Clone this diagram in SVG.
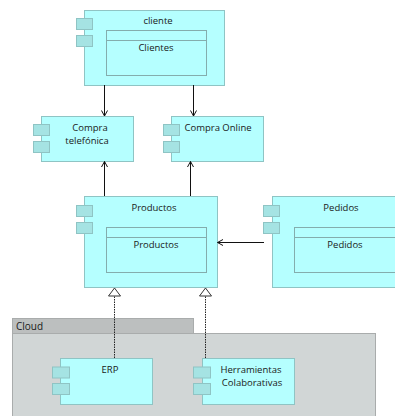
<svg xmlns="http://www.w3.org/2000/svg" width="395" height="416" viewBox="0 0 395 416">
<style>
text{font-family:"Open Sans","Liberation Sans",Arial,sans-serif;font-size:9.5px;fill:#1a1a1a;text-anchor:middle}
.b{fill:#b5ffff;stroke:#8fc4c4;stroke-width:1}
.t{fill:#a5e3e3;stroke:#8fc4c4;stroke-width:1}
.i{fill:#b5ffff;stroke:#84adad;stroke-width:1}
.l{fill:none;stroke:#111;stroke-width:1}
.d{fill:none;stroke:#222;stroke-width:1;stroke-dasharray:1.500 1}
.h{fill:#fff;stroke:#333;stroke-width:1}
</style>
<defs>
<marker id="a" markerWidth="8" markerHeight="10" refX="6.5" refY="4" orient="auto" markerUnits="userSpaceOnUse"><path d="M1 1L6.5 4L1 7" fill="none" stroke="#111" stroke-width="1"/></marker>
</defs>
<rect width="395" height="416" fill="#fff"/>
<g id="cloud">
<rect x="12.500" y="318.500" width="181" height="15" fill="#bcbfbf" stroke="#a9acac"/>
<rect x="12.500" y="333.500" width="363" height="90" fill="#d1d6d6" stroke="#a9acac"/>
<text x="16" y="330" style="text-anchor:start;font-size:10px">Cloud</text>
</g>
<g id="cliente">
<rect class="b" x="84.500" y="10.500" width="140" height="75"/>
<rect class="t" x="76.500" y="18.500" width="16" height="11"/><rect class="t" x="76.500" y="35.500" width="16" height="11"/>
<rect class="i" x="106.500" y="30.500" width="100" height="45"/><path class="i" d="M106.500 40.500H206.500"/>
<text x="158" y="24">cliente</text><text x="156" y="51">Clientes</text>
</g>
<g id="compra-telefonica">
<rect class="b" x="41.500" y="116.500" width="92" height="45"/>
<rect class="t" x="33.500" y="124.500" width="16" height="11"/><rect class="t" x="33.500" y="141.500" width="16" height="11"/>
<text x="90" y="130.500">Compra</text><text x="87" y="143.500">telefónica</text>
</g>
<g id="compra-online">
<rect class="b" x="171.500" y="116.500" width="92" height="45"/>
<rect class="t" x="163.500" y="124.500" width="16" height="11"/><rect class="t" x="163.500" y="141.500" width="16" height="11"/>
<text x="218" y="130.500">Compra Online</text>
</g>
<g id="productos">
<rect class="b" x="84.500" y="196.500" width="133" height="91"/>
<rect class="t" x="76.500" y="205.500" width="16" height="11"/><rect class="t" x="76.500" y="222.500" width="16" height="11"/>
<rect class="i" x="106.500" y="227.500" width="100" height="45"/><path class="i" d="M106.500 237.500H206.500"/>
<text x="154" y="211">Productos</text><text x="156" y="248">Productos</text>
</g>
<g id="pedidos">
<rect class="b" x="272.500" y="196.500" width="133" height="91"/>
<rect class="t" x="263.500" y="205.500" width="16" height="11"/><rect class="t" x="263.500" y="222.500" width="16" height="11"/>
<rect class="i" x="294.500" y="227.500" width="110" height="45"/><path class="i" d="M294.500 237.500H404.500"/>
<text x="341" y="211">Pedidos</text><text x="345" y="248">Pedidos</text>
</g>
<g id="erp">
<rect class="b" x="60.500" y="358.500" width="92" height="46"/>
<rect class="t" x="52.500" y="367" width="17" height="11"/><rect class="t" x="52.500" y="383.500" width="17" height="11"/>
<text x="110" y="372.500">ERP</text>
</g>
<g id="herramientas">
<rect class="b" x="202.500" y="358.500" width="92" height="46"/>
<rect class="t" x="193.500" y="367" width="17" height="11"/><rect class="t" x="193.500" y="383.500" width="17" height="11"/>
<text x="251" y="372.500">Herramientas</text><text x="252" y="385.500">Colaborativas</text>
</g>
<g id="connectors">
<path class="l" d="M104.500 85V116" marker-end="url(#a)"/>
<path class="l" d="M193.500 85V116" marker-end="url(#a)"/>
<path class="l" d="M104.500 196V161.500" marker-end="url(#a)"/>
<path class="l" d="M190.500 196V161.500" marker-end="url(#a)"/>
<path class="l" d="M264 242.500H217.500" marker-end="url(#a)"/>
<path class="d" d="M114.500 358V296"/>
<path class="d" d="M205.500 358V296"/>
<path class="h" d="M114.500 288L120.500 296H108.500Z"/>
<path class="h" d="M205.500 288L211.500 296H199.500Z"/>
</g>
</svg>
